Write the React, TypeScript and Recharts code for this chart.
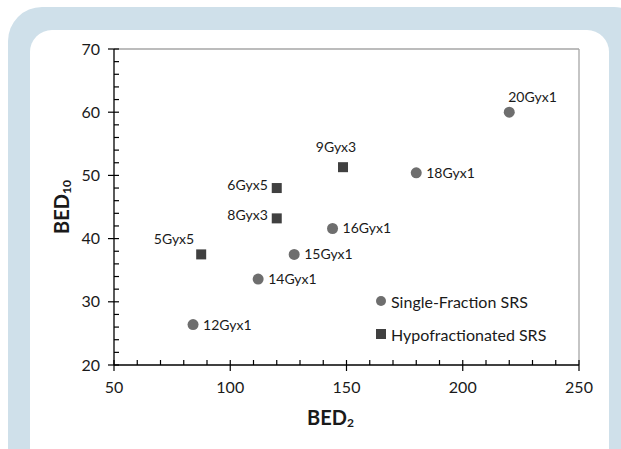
import React from "react";
import { ScatterChart, Scatter, XAxis, YAxis, ReferenceLine, Label } from "recharts";

// single-fraction SRS points
const singleNames = ["12Gyx1", "14Gyx1", "15Gyx1", "16Gyx1", "18Gyx1", "20Gyx1"];
const singleBed2 = [84, 112, 127.5, 144, 180, 220];
const singleBed10 = [26.4, 33.6, 37.5, 41.6, 50.4, 60];

// hypofractionated SRS points
const hypoNames = ["5Gyx5", "8Gyx3", "6Gyx5", "9Gyx3"];
const hypoBed2 = [87.5, 120, 120, 148.5];
const hypoBed10 = [37.5, 43.2, 48, 51.3];

const xTicks = [50, 60, 70, 80, 90, 100, 110, 120, 130, 140, 150, 160, 170, 180, 190, 200, 210, 220, 230, 240, 250];
const yTicks = [20, 22, 24, 26, 28, 30, 32, 34, 36, 38, 40, 42, 44, 46, 48, 50, 52, 54, 56, 58, 60, 62, 64, 66, 68, 70];
const xMajor = [50, 100, 150, 200, 250];
const yMajor = [20, 30, 40, 50, 60, 70];

const seriesNames = ["Single-Fraction SRS", "Hypofractionated SRS"];

// where each point label sits (default is right of the marker)
const labelSide: Record<string, string> = {
  "20Gyx1": "topRight",
  "9Gyx3": "top",
  "6Gyx5": "left",
  "8Gyx3": "left",
  "5Gyx5": "topLeft",
};

const FONT = "Lato, 'Open Sans', sans-serif";
const CIRCLE = "#6e6e6e";
const SQUARE = "#404040";
const TEXT = "#1a1a1a";

const singleData = singleNames.map((name, i) => ({ name, bed2: singleBed2[i], bed10: singleBed10[i] }));
const hypoData = hypoNames.map((name, i) => ({ name, bed2: hypoBed2[i], bed10: hypoBed10[i] }));

function PointLabel({ cx, cy, name }: { cx: number; cy: number; name: string }) {
  const side = labelSide[name] || "right";
  let x = cx + 10;
  let y = cy + 5;
  let anchor = "start";
  if (side === "topRight") {
    x = cx - 1;
    y = cy - 10;
  } else if (side === "top") {
    x = cx - 7;
    y = cy - 15;
    anchor = "middle";
  } else if (side === "left") {
    x = cx - 9;
    y = cy + 2;
    anchor = "end";
  } else if (side === "topLeft") {
    x = cx - 7;
    y = cy - 10;
    anchor = "end";
  }
  return (
    <text x={x} y={y} textAnchor={anchor as any} fontFamily={FONT} fontSize={14} fill={TEXT}>
      {name}
    </text>
  );
}

function CircleShape(props: any) {
  const { cx, cy, payload } = props;
  return (
    <g>
      <circle cx={cx} cy={cy} r={5.5} fill={CIRCLE} />
      <PointLabel cx={cx} cy={cy} name={payload.name} />
    </g>
  );
}

function SquareShape(props: any) {
  const { cx, cy, payload } = props;
  return (
    <g>
      <rect x={cx - 5} y={cy - 5} width={10} height={10} fill={SQUARE} />
      <PointLabel cx={cx} cy={cy} name={payload.name} />
    </g>
  );
}

function XTick(props: any) {
  const { x, y, payload } = props;
  const major = xMajor.includes(payload.value);
  return (
    <g>
      <line x1={x} x2={x} y1={y - 5} y2={major ? y + 6 : y} stroke="#000" strokeWidth={1.2} />
      {major && (
        <text x={x} y={y + 28} textAnchor="middle" fontFamily={FONT} fontSize={16} fill={TEXT}>
          {payload.value}
        </text>
      )}
    </g>
  );
}

function YTick(props: any) {
  const { x, y, payload } = props;
  const major = yMajor.includes(payload.value);
  return (
    <g>
      <line x1={major ? x - 6 : x} x2={x + 5} y1={y} y2={y} stroke="#000" strokeWidth={1.2} />
      {major && (
        <text x={x - 14} y={y} dy="0.35em" textAnchor="end" fontFamily={FONT} fontSize={16} fill={TEXT}>
          {payload.value}
        </text>
      )}
    </g>
  );
}

function LegendBox() {
  return (
    <div style={{ position: "absolute", left: 375, top: 291, fontFamily: FONT, fontSize: 16, color: TEXT }}>
      {seriesNames.map((s, i) => (
        <div key={s} style={{ display: "flex", alignItems: "center", height: 20, marginBottom: 13, whiteSpace: "nowrap" }}>
          <svg width={12} height={12} style={{ marginRight: 4 }}>
            {i === 0 ? <circle cx={6} cy={6} r={5} fill={CIRCLE} /> : <rect x={1} y={1} width={10} height={10} fill={SQUARE} />}
          </svg>
          <span>{s}</span>
        </div>
      ))}
    </div>
  );
}

export default function App() {
  return (
    <div style={{ position: "absolute", left: 0, top: 0, width: 621, height: 449, overflow: "hidden", background: "#fff" }}>
      <div style={{ position: "absolute", left: 8, top: 7, width: 640, height: 480, background: "#cfe0ea", borderRadius: 34 }} />
      <div style={{ position: "absolute", left: 30, top: 30, width: 579, height: 460, background: "#fff", borderRadius: 22 }} />
      <div style={{ position: "absolute", left: 0, top: 0 }}>
        <ScatterChart width={621} height={449} margin={{ top: 49, right: 42, bottom: 34, left: 50 }}>
          <XAxis
            type="number"
            dataKey="bed2"
            domain={[50, 250]}
            ticks={xTicks}
            interval={0}
            allowDataOverflow
            tickLine={false}
            tickSize={0}
            tickMargin={0}
            height={50}
            axisLine={{ stroke: "#000", strokeWidth: 1.3 }}
            tick={<XTick />}
          >
            <Label
              content={(p: any) => {
                const vb = p.viewBox;
                return (
                  <text x={vb.x + vb.width / 2 - 16} y={vb.y + 60} textAnchor="middle" fontFamily={FONT} fontWeight="bold" fontSize={20} fill={TEXT}>
                    BED
                    <tspan fontSize={12} dy={2}>2</tspan>
                  </text>
                );
              }}
            />
          </XAxis>
          <YAxis
            type="number"
            dataKey="bed10"
            domain={[20, 70]}
            ticks={yTicks}
            interval={0}
            allowDataOverflow
            tickLine={false}
            tickSize={0}
            tickMargin={0}
            width={64}
            axisLine={{ stroke: "#000", strokeWidth: 1.3 }}
            tick={<YTick />}
          >
            <Label
              content={(p: any) => {
                const vb = p.viewBox;
                const cx = vb.x + 12;
                const cy = vb.y + vb.height / 2;
                return (
                  <text x={cx} y={cy} transform={`rotate(-90 ${cx} ${cy})`} dy="0.35em" textAnchor="middle" fontFamily={FONT} fontWeight="bold" fontSize={20} fill={TEXT}>
                    BED
                    <tspan fontSize={12} dy={2}>10</tspan>
                  </text>
                );
              }}
            />
          </YAxis>
          <ReferenceLine y={70} stroke="#a6a6a6" strokeWidth={1.3} />
          <ReferenceLine x={250} stroke="#a6a6a6" strokeWidth={1.3} />
          <Scatter name={seriesNames[0]} data={singleData} isAnimationActive={false} shape={<CircleShape />} />
          <Scatter name={seriesNames[1]} data={hypoData} isAnimationActive={false} shape={<SquareShape />} />
        </ScatterChart>
      </div>
      <LegendBox />
    </div>
  );
}
